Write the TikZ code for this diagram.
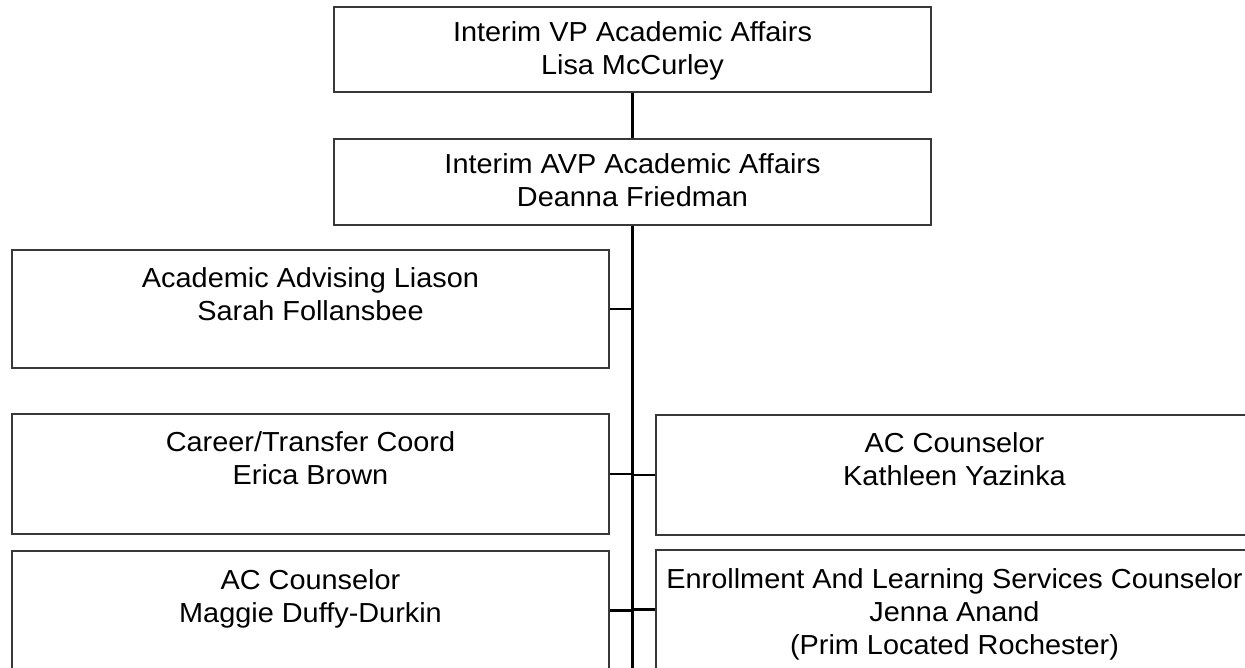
\documentclass[tikz,border=0pt]{standalone}
\usepackage{fontspec}
\setmainfont[FakeStretch=1.05]{Liberation Sans}
\begin{document}
\begin{tikzpicture}[x=1pt,y=-1pt,
  box/.style={draw=black!78, line width=2pt, fill=white, rectangle, inner sep=0pt,
              minimum width=597pt},
  txt/.style={align=center, inner sep=0pt, anchor=north,
              font=\fontsize{27.5}{33}\selectfont},
  link/.style={draw=black, line width=2.2pt}]
\useasboundingbox (0,0) rectangle (1245,668);
\fill[white] (0,0) rectangle (1245,668);

% boxes
\node[box, minimum height=85pt]  (vp)  at (632.5,49.5) {};
\node[box, minimum height=86pt]  (avp) at (632.5,182)  {};
\node[box, minimum height=118pt] (adv) at (310.5,309)  {};
\node[box, minimum height=120pt] (car) at (310.5,474)  {};
\node[box, minimum height=120pt] (acc) at (954.5,475)  {};
\node[box, minimum height=119pt] (mag) at (310.5,610.5) {};
\node[box, minimum height=119pt] (enr) at (954.5,609.5) {};

% labels
\node[txt] (vpt)  at ([yshift=-15pt]vp.north)  {Interim VP Academic Affairs\\Lisa McCurley};
\node[txt] (avpt) at ([yshift=-15pt]avp.north) {Interim AVP Academic Affairs\\Deanna Friedman};
\node[txt] (advt) at ([yshift=-18pt]adv.north) {Academic Advising Liason\\Sarah Follansbee};
\node[txt] (cart) at ([yshift=-18pt]car.north) {Career/Transfer Coord\\Erica Brown};
\node[txt] (acct) at ([yshift=-18pt]acc.north) {AC Counselor\\Kathleen Yazinka};
\node[txt] (magt) at ([yshift=-19pt]mag.north) {AC Counselor\\Maggie Duffy-Durkin};
\node[txt] (enrt) at ([yshift=-19pt]enr.north) {Enrollment And Learning Services Counselor\\Jenna Anand\\(Prim Located Rochester)};

% reporting lines
\coordinate (spineend) at (632.5,668);
\draw[link] (vp.south) -- (avp.north);
\draw[link] (avp.south) -- (spineend);
\draw[link] (adv.east) -- (adv.east -| avp.south);
\draw[link] (car.east) -- (car.east -| avp.south);
\draw[link] (acc.west) -- (acc.west -| avp.south);
\draw[link] (mag.east) -- (mag.east -| avp.south);
\draw[link] (enr.west) -- (enr.west -| avp.south);
\end{tikzpicture}
\end{document}
